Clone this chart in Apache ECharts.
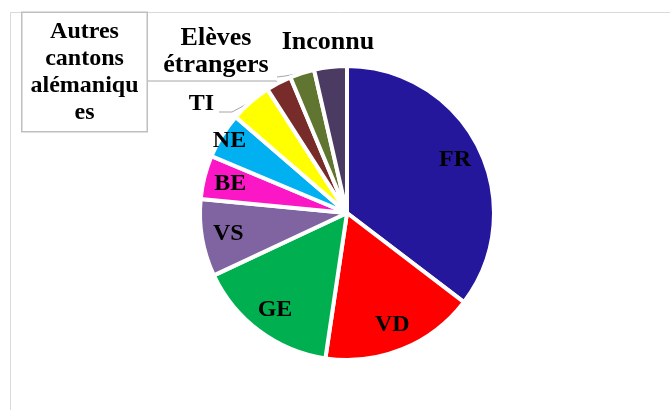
<!DOCTYPE html>
<html>
<head>
<meta charset="utf-8">
<script src="https://cdn.jsdelivr.net/npm/echarts@6/dist/echarts.min.js"></script>
<style>html,body{margin:0;padding:0;background:#fff}#c{width:670px;height:410px}</style>
</head>
<body>
<div id="c"></div>
<script>
const categories = ['FR','VD','GE','VS','BE','NE','TI','Autres cantons alémaniques','Elèves étrangers','Inconnu'];
const labelTexts = ['FR','VD','GE','VS','BE','NE','TI','Autres\ncantons\nalémaniqu\nes','Elèves\nétrangers','Inconnu'];
const values = [35.4, 17.0, 15.7, 8.5, 4.8, 5.0, 4.6, 2.8, 2.7, 3.6];
const colors = ['#24179b','#ff0000','#00b050','#8064a2','#fc17c6','#00b0f0','#ffff00','#772c2a','#5f7530','#4b3a61'];

const FONT = 'Liberation Serif';
const CENTER = [347, 213];
const chart = echarts.init(document.getElementById('c'), null, {renderer:'canvas'});

const outerLayout = {
  6: {x: 214, y: 104, align: 'right', verticalAlign: 'middle', pts: [[232,112],[219,112]]},
  7: {x: 84.5, y: 72, align: 'center', verticalAlign: 'middle', pts: [[276,81],[147,81]]},
  8: {x: 216, y: 52, align: 'center', verticalAlign: 'middle', pts: [[285,76],[277,77]]},
  9: {x: 328, y: 42, align: 'center', verticalAlign: 'middle', pts: null}
};

const baseText = {fontFamily: FONT, fontWeight: 'bold', color: '#000'};

const mainData = categories.map((c, i) => {
  const d = {name: c, value: values[i], itemStyle: {color: colors[i]},
    label: Object.assign({show: i >= 6, fontSize: 24}, baseText), labelLine: {show: i >= 6 && i < 9}};
  if (i === 7) {
    Object.assign(d.label, {backgroundColor: '#fff', borderColor: '#bfbfbf', borderWidth: 1.5,
      padding: [5, 5], width: 114, lineHeight: 27, align: 'center'});
  }
  if (i === 8) Object.assign(d.label, {fontSize: 26, lineHeight: 27});
  if (i === 9) Object.assign(d.label, {fontSize: 26});
  return d;
});

const innerData = categories.map((c, i) => ({name: c, value: values[i],
  label: Object.assign({show: i < 6, fontSize: 24}, baseText)}));

chart.setOption({
  animation: false,
  backgroundColor: '#fff',
  graphic: [{type: 'rect', shape: {x: 10.5, y: 12.5, width: 700, height: 500},
    style: {fill: 'none', stroke: '#d9d9d9', lineWidth: 1}, silent: true, z: -1}],
  series: [
    {
      type: 'pie', center: CENTER, radius: 147, startAngle: 90, clockwise: true,
      avoidLabelOverlap: false, z: 2,
      emphasis: {disabled: true},
      itemStyle: {borderColor: '#fff', borderWidth: 4},
      label: Object.assign({position: 'outside', formatter: p => labelTexts[p.dataIndex],
        fontSize: 24, lineHeight: 27}, baseText),
      labelLine: {length: 10, length2: 10, lineStyle: {color: '#a6a6a6', width: 1}},
      labelLayout: function (p) {
        const o = outerLayout[p.dataIndex];
        if (!o) return {};
        const r = {x: o.x, y: o.y, align: o.align, verticalAlign: o.verticalAlign};
        if (o.pts && p.labelLinePoints) r.labelLinePoints = [p.labelLinePoints[0]].concat(o.pts);
        return r;
      },
      data: mainData
    },
    {
      type: 'pie', center: CENTER, radius: [88, 147], startAngle: 90, clockwise: true,
      avoidLabelOverlap: false, silent: true, z: 3,
      emphasis: {disabled: true},
      itemStyle: {color: 'rgba(0,0,0,0)'},
      label: Object.assign({position: 'inside', formatter: p => labelTexts[p.dataIndex],
        fontSize: 24}, baseText),
      labelLine: {show: false},
      labelLayout: function (p) {
        if (p.dataIndex === 5) return {dx: -15, dy: -9};
        return {};
      },
      data: innerData
    }
  ]
});
</script>
</body>
</html>
